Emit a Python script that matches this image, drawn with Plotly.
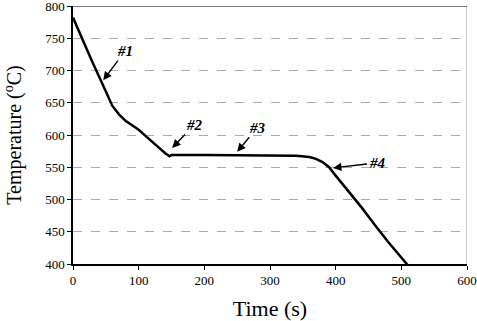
import plotly.graph_objects as go

time_s = [0, 10, 20, 30, 40, 50, 60, 70, 80, 90, 100, 110, 120, 130, 140, 147, 150, 200, 250, 300, 340, 360, 370, 380, 390, 400, 420, 440, 460, 480, 500, 510]
temp_c = [782, 758, 735, 712, 690, 668, 645, 632, 622, 615, 608, 599, 590, 580, 572, 567, 569, 569, 569, 569, 568, 566, 563, 558, 550, 537, 512, 487, 460, 434, 410, 398]

labels = ["#1", "#2", "#3", "#4"]
label_x = [46, 151, 250, 396]
label_y = [685, 580, 574, 549]
label_ax = [22, 22, 20, 44]
label_ay = [-29, -23, -24, -5]

fig = go.Figure()
fig.add_trace(go.Scatter(x=time_s, y=temp_c, mode="lines",
                         line=dict(color="black", width=2.5), showlegend=False))

for t, x, y, ax, ay in zip(labels, label_x, label_y, label_ax, label_ay):
    fig.add_annotation(x=x, y=y, text="<b><i>" + t + "</i></b>", showarrow=True,
                       ax=ax, ay=ay, arrowhead=2, arrowsize=1.2, arrowwidth=1.4,
                       arrowcolor="black", font=dict(family="Liberation Serif", size=15, color="black"))

fig.add_shape(type="line", xref="x", yref="y", x0=600, x1=600, y0=400, y1=800,
              line=dict(color="#999999", width=1))
fig.add_shape(type="line", xref="x", yref="y", x0=0, x1=600, y0=800, y1=800,
              line=dict(color="black", width=1))

fig.update_layout(
    width=477, height=321,
    margin=dict(l=73, r=10, t=6, b=57),
    paper_bgcolor="white", plot_bgcolor="white",
    font=dict(family="Liberation Serif", color="black"),
    xaxis=dict(range=[0, 600], tickvals=[0, 100, 200, 300, 400, 500, 600],
               ticks="outside", ticklen=4, tickcolor="black", showline=True,
               linecolor="black", linewidth=1.5, showgrid=False, zeroline=False,
               automargin=False, ticklabeloverflow="allow",
               tickfont=dict(size=13, family="Liberation Serif"),
               title=dict(text="Time (s)", font=dict(size=22, family="Liberation Serif"), standoff=16)),
    yaxis=dict(range=[400, 800], tickvals=[400, 450, 500, 550, 600, 650, 700, 750, 800],
               ticks="outside", ticklen=4, tickcolor="black", showline=True,
               linecolor="black", linewidth=1.5, showgrid=True, gridcolor="#aaaaaa",
               griddash="dash", gridwidth=1, zeroline=False, automargin=False,
               ticklabeloverflow="allow",
               tickfont=dict(size=13, family="Liberation Serif"),
               title=dict(text="Temperature (<sup>o</sup>C)", font=dict(size=20, family="Liberation Serif"), standoff=18)),
)

fig.write_html("out.html")
